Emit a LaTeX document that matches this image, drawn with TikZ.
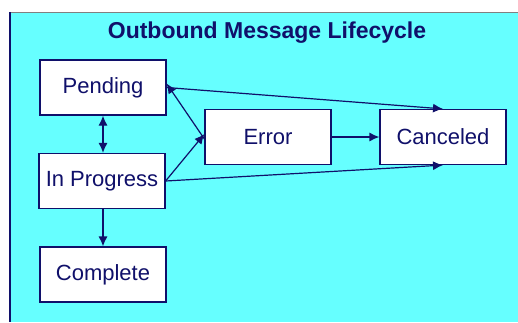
\documentclass[tikz,border=0pt]{standalone}
\usepackage{fontspec}
\setmainfont{Liberation Sans}
\usetikzlibrary{arrows.meta}
\definecolor{bgcyan}{HTML}{66FFFF}
\definecolor{navy}{HTML}{10106A}
\definecolor{edgegray}{HTML}{808080}
\begin{document}
\begin{tikzpicture}[x=1pt,y=-1pt,
every node/.style={font=\fontsize{22}{24}\selectfont,text=navy},
state/.style={draw=navy,fill=white,line width=1.2pt,minimum width=126pt,minimum height=55pt,inner sep=0pt},
link/.style={-{Latex[length=10pt,width=9pt]},draw=navy,line width=1.2pt}]
\useasboundingbox (0,0) rectangle (518,322);
\fill[bgcyan] (10,12) rectangle (518,322);
\draw[edgegray,line width=1pt] (10,12) -- (518,12);
\draw[navy,line width=1.5pt] (10,12) -- (10,322);
\node[font=\bfseries\fontsize{23}{25}\selectfont] (title) at (267,33) {Outbound Message Lifecycle};
\node[state] (pending) at (103,87.5) {Pending};
\node[state] (inprog) at (102,181) {In Progress};
\node[state] (complete) at (103,274.5) {Complete};
\node[state] (error) at (268,137) {Error};
\node[state] (canceled) at (443,137) {Canceled};
\draw[link,{Latex[length=10pt,width=9pt]}-{Latex[length=10pt,width=9pt]}] (pending.south) -- (inprog.north -| pending.south);
\draw[link] (inprog.south -| complete.north) -- (complete.north);
\draw[link] (pending.east) -- (canceled.north);
\draw[link] (inprog.east) -- (canceled.south);
\draw[link] (error.east) -- (canceled.west);
\draw[link] ([yshift=-2pt]error.west) -- ([yshift=4pt]pending.east);
\draw[link] (inprog.east) -- ([yshift=3pt]error.west);
\end{tikzpicture}
\end{document}
